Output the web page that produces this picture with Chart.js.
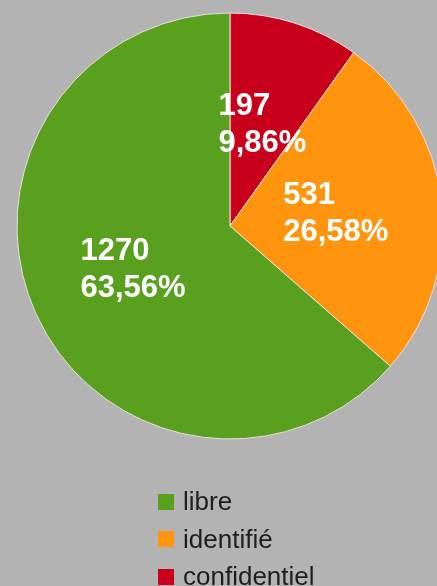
<!DOCTYPE html>
<html>
<head>
<meta charset="utf-8">
<script src="https://cdn.jsdelivr.net/npm/chart.js@4"></script>
<style>
    html, body { margin: 0; padding: 0; background: #b3b3b3; overflow: hidden; }
    #wrap { position: relative; width: 437px; height: 586px; }
    #legend { position: absolute; left: 158px; top: 483px; font-family: "Liberation Sans", Arial, sans-serif; font-size: 26px; color: #1e1e1e; }
    .item { height: 37.5px; display: flex; align-items: center; }
    .box { width: 16px; height: 16px; margin-right: 9px; }
</style>
</head>
<body>
<div id="wrap">
    <canvas id="pieChart" width="437" height="586"></canvas>
    <div id="legend"></div>
</div>
<script>
// legend order
const categories = ['libre', 'identifié', 'confidentiel'];
const counts = [1270, 531, 197];
const colors = ['#58a01d', '#ff950e', '#c8001c'];

const total = counts.reduce((s, v) => s + v, 0);

// slices go clockwise from the top: confidentiel, identifié, libre
const drawLabels = categories.slice().reverse();
const drawCounts = counts.slice().reverse();
const drawColors = colors.slice().reverse();

const sliceLabels = {
    id: 'sliceLabels',
    afterDatasetsDraw(chart) {
        const ctx = chart.ctx;
        const meta = chart.getDatasetMeta(0);
        ctx.save();
        ctx.font = 'bold 31px "Liberation Sans", Arial, sans-serif';
        ctx.fillStyle = '#ffffff';
        ctx.textBaseline = 'middle';
        ctx.textAlign = 'left';
        meta.data.forEach((arc, i) => {
            const v = drawCounts[i];
            const pct = (v / total * 100).toFixed(2).replace('.', ',') + '%';
            const lines = [String(v), pct];
            const w = Math.max(...lines.map(l => ctx.measureText(l).width));
            const p = arc.getCenterPoint();
            const lineH = 37;
            const x = p.x - w / 2;
            lines.forEach((l, j) => {
                ctx.fillText(l, x, p.y + (j - (lines.length - 1) / 2) * lineH);
            });
        });
        ctx.restore();
    }
};

new Chart(document.getElementById('pieChart'), {
    type: 'pie',
    data: {
        labels: drawLabels,
        datasets: [{
            data: drawCounts,
            backgroundColor: drawColors,
            borderColor: '#eedddd',
            borderWidth: 1,
            radius: 213
        }]
    },
    options: {
        responsive: false,
        animation: false,
        devicePixelRatio: 1,
        layout: { padding: { left: 23, right: 0, top: 0, bottom: 134 } },
        plugins: {
            legend: { display: false },
            tooltip: { enabled: false }
        }
    },
    plugins: [sliceLabels]
});

// legend
const legendEl = document.getElementById('legend');
categories.forEach((c, i) => {
    const row = document.createElement('div');
    row.className = 'item';
    row.innerHTML = `<span class="box" style="background:${colors[i]}"></span><span>${c}</span>`;
    legendEl.appendChild(row);
});
</script>
</body>
</html>
